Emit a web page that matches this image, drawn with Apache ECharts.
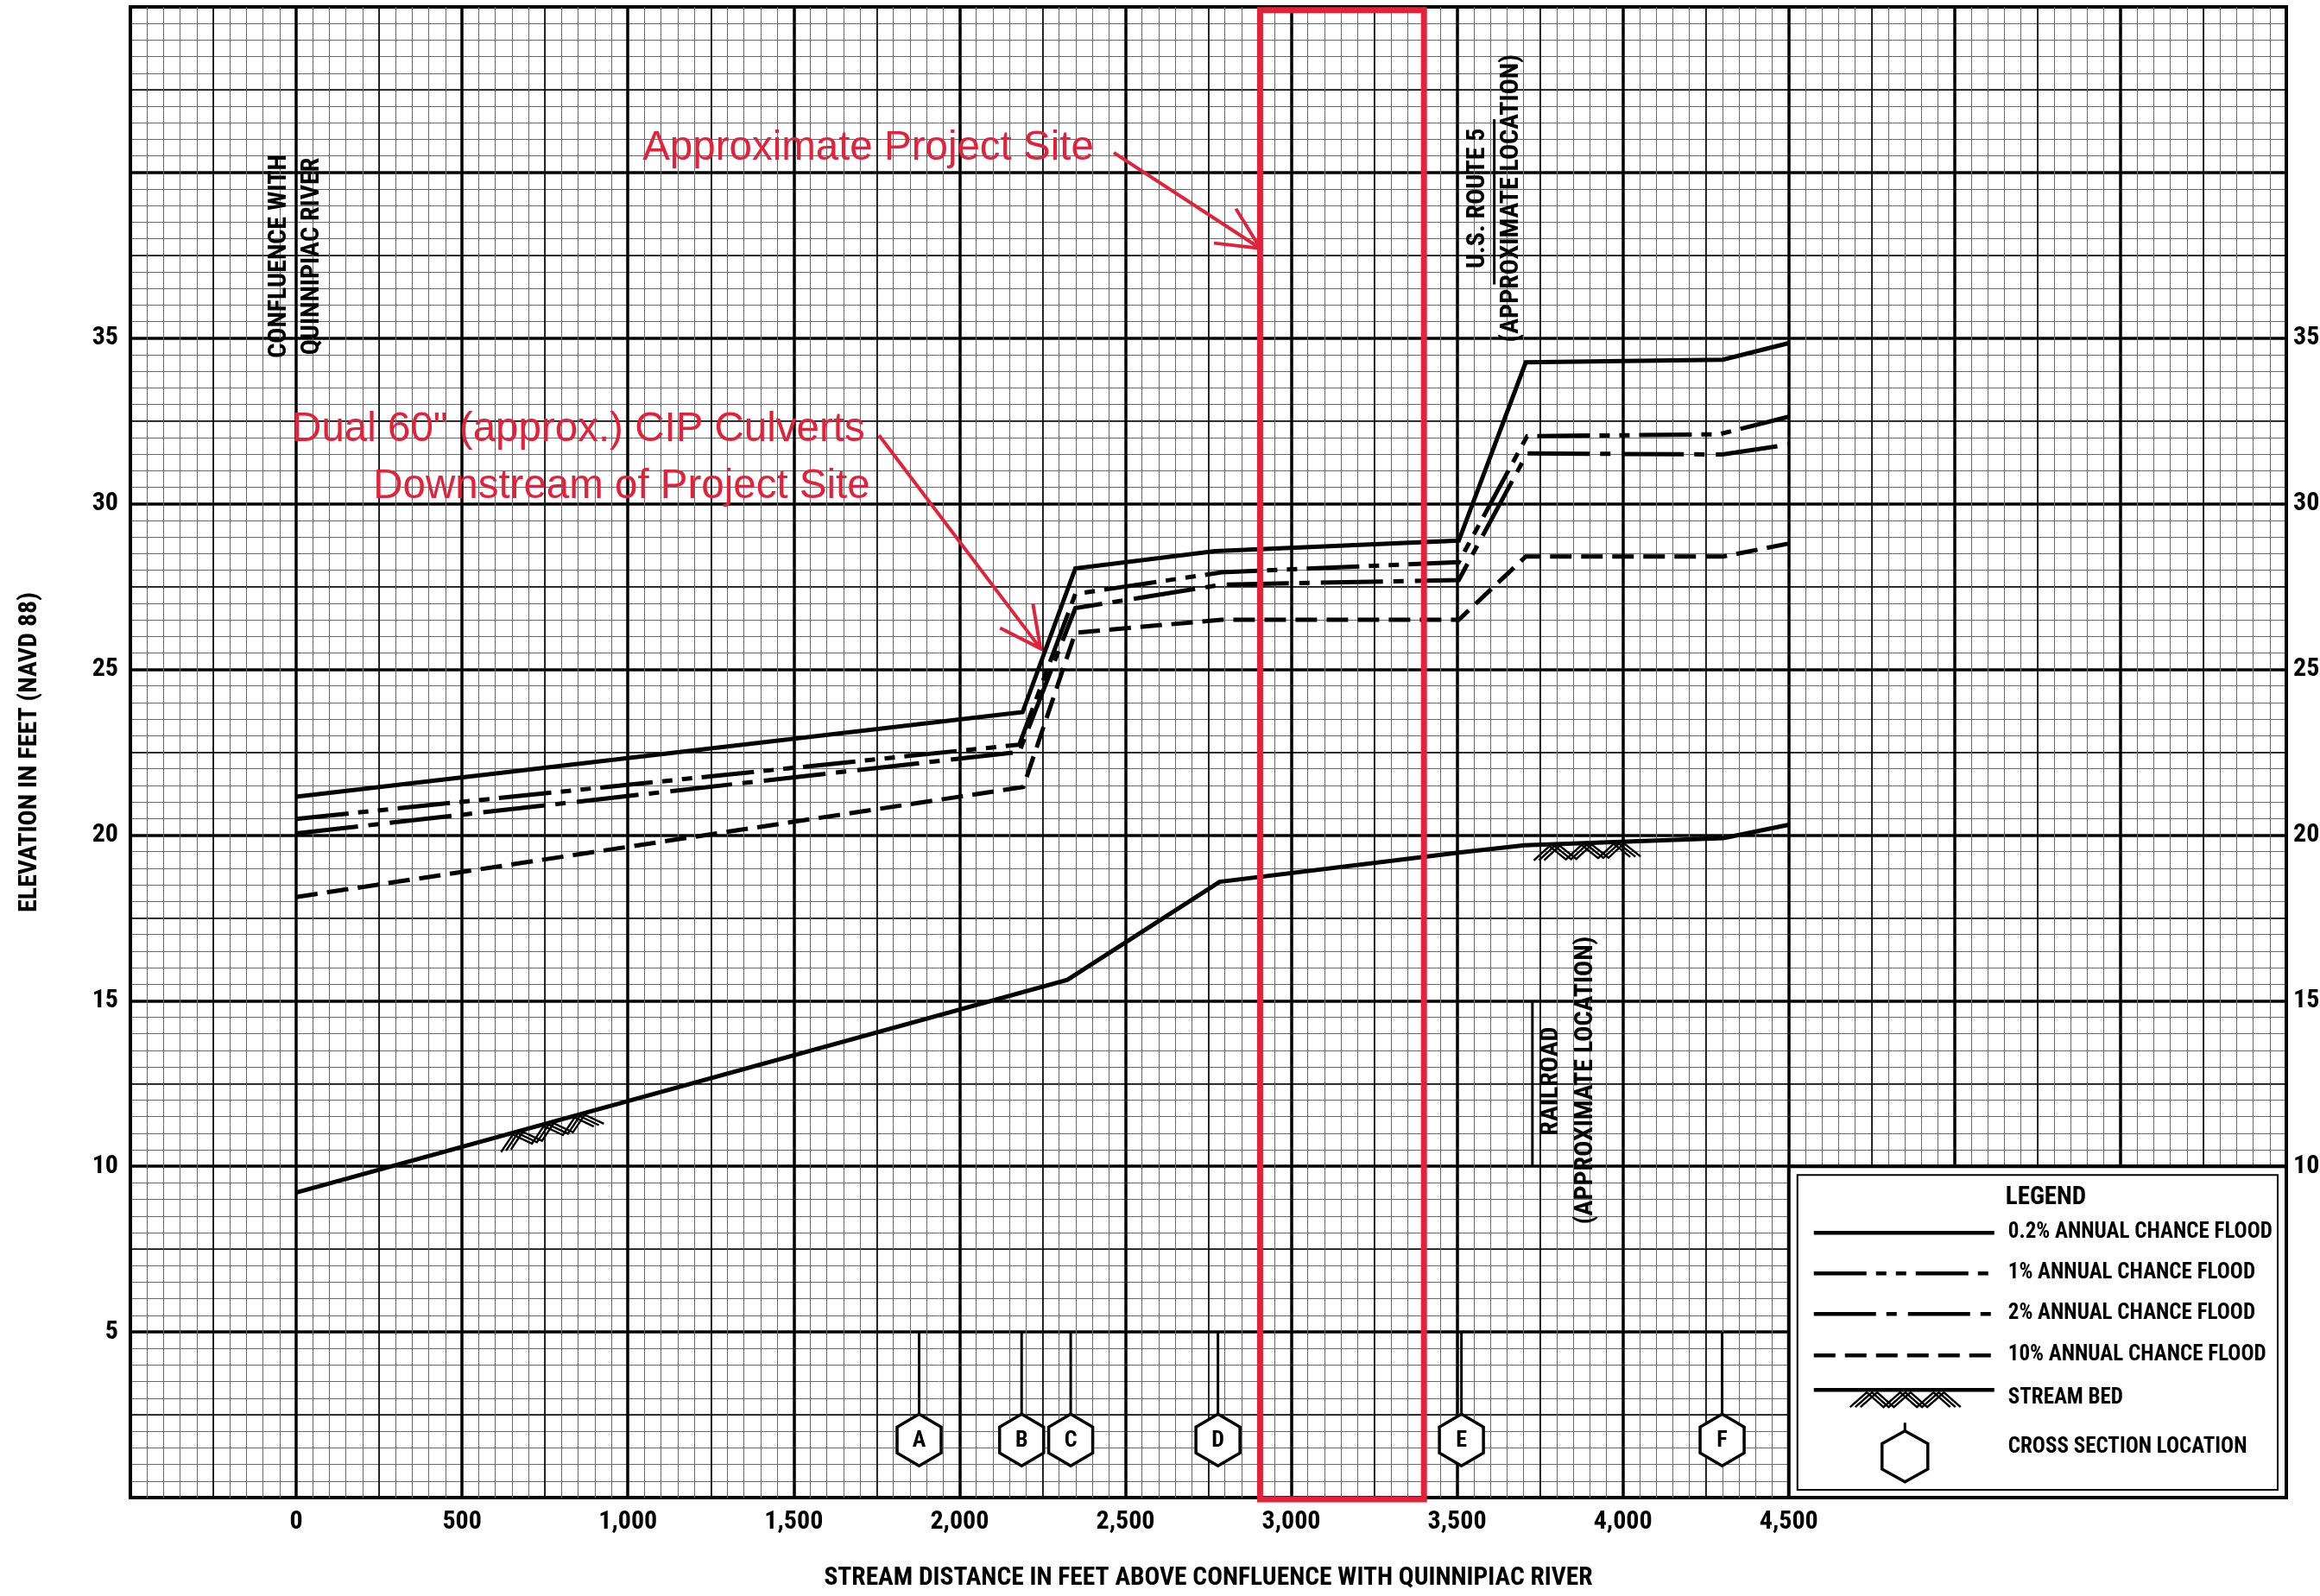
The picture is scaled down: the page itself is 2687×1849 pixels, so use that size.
<!DOCTYPE html>
<html><head><meta charset="utf-8">
<script src="https://cdn.jsdelivr.net/npm/echarts@6/dist/echarts.min.js"></script>
<style>html,body{margin:0;padding:0;background:#fff}#c{width:2687px;height:1849px}</style>
</head><body><div id="c"></div>
<script>
// ---------------- DATA ----------------
const xLabeledTicks = [0, 500, 1000, 1500, 2000, 2500, 3000, 3500, 4000, 4500];
const yLeftLabeledTicks = [5, 10, 15, 20, 25, 30, 35];
const yRightLabeledTicks = [10, 15, 20, 25, 30, 35];

const flood02Dist = [0, 2190, 2349, 2770, 3505, 3707, 4301, 4500];
const flood02Elev = [21.16, 23.71, 28.05, 28.57, 28.89, 34.27, 34.35, 34.85];
const flood1Dist  = [0, 2180, 2349, 2790, 3505, 3711, 4290, 4500];
const flood1Elev  = [20.49, 22.73, 27.28, 27.93, 28.24, 32.04, 32.10, 32.63];
const flood2Dist  = [0, 2180, 2349, 2790, 3505, 3711, 4300, 4500];
const flood2Elev  = [20.05, 22.51, 26.85, 27.56, 27.70, 31.52, 31.49, 31.79];
const flood10Dist = [0, 2192, 2349, 2790, 3505, 3707, 4303, 4500];
const flood10Elev = [18.13, 21.45, 26.11, 26.50, 26.50, 28.41, 28.41, 28.80];
const bedDist     = [0, 2325, 2784, 3505, 3703, 4303, 4500];
const bedElev     = [9.21, 15.63, 18.59, 19.47, 19.69, 19.91, 20.31];

const xsLabels = ['A', 'B', 'C', 'D', 'E', 'F'];
const xsDist   = [1878, 2187, 2335, 2779, 3513, 4299];

const bedHatchStart = [620, 3745];
const bedHatchEnd   = [900, 4036];

const projectSiteDist = [2906, 3400];

const legendNames = ['0.2% ANNUAL CHANCE FLOOD', '1% ANNUAL CHANCE FLOOD', '2% ANNUAL CHANCE FLOOD', '10% ANNUAL CHANCE FLOOD', 'STREAM BED', 'CROSS SECTION LOCATION'];

// ---------------- STYLE ----------------
const NARROW = "'Roboto Condensed','Open Sans Condensed','DejaVu Sans Condensed',sans-serif";
const SANS = "'Liberation Sans',Arial,sans-serif";
const RED = '#E4213B';
const DASH1 = [61, 11, 12, 11, 12, 11];
const DASH2 = [72, 12, 12, 13];
const DASH10 = [25, 11];
const XS_CENTER_ELEV = 1.74;

function pairs(xs, ys) { return xs.map((x, i) => [x, ys[i]]); }
function fmt(v) { return v.toLocaleString('en-US'); }
function bedAt(x) {
  for (let i = 0; i < bedDist.length - 1; i++) {
    if (x >= bedDist[i] && x <= bedDist[i + 1]) {
      const t = (x - bedDist[i]) / (bedDist[i + 1] - bedDist[i]);
      return bedElev[i] + t * (bedElev[i + 1] - bedElev[i]);
    }
  }
  return bedElev[bedElev.length - 1];
}
function zigzag(p1, p2, apexCount, top, depth, shift, width) {
  const dx = p2[0] - p1[0], dy = p2[1] - p1[1], L = Math.hypot(dx, dy);
  const ux = dx / L, uy = dy / L, nx = -uy, ny = ux;
  const segs = apexCount * 2, step = L / segs;
  const out = [];
  for (const s of [-shift, 0, shift]) {
    const pts = [];
    for (let k = 0; k <= segs; k++) {
      const off = (k % 2 === 0) ? depth : top;
      const t = k * step + s;
      pts.push([p1[0] + ux * t + nx * off, p1[1] + uy * t + ny * off]);
    }
    out.push({ type: 'polyline', shape: { points: pts }, style: { stroke: '#000', lineWidth: width, fill: null, lineJoin: 'miter' } });
  }
  return out;
}
function hexPoints(cx, cy, hw, hh) {
  return [[cx, cy - hh], [cx + hw, cy - hh / 2], [cx + hw, cy + hh / 2], [cx, cy + hh], [cx - hw, cy + hh / 2], [cx - hw, cy - hh / 2]];
}

const lineSeries = (name, xs, ys, dash) => ({
  type: 'line', name, data: pairs(xs, ys), symbol: 'none', silent: true, z: 3,
  lineStyle: { color: '#000', width: 5, type: dash, join: 'miter', cap: 'butt' }
});

const labelStyle = { fontFamily: NARROW, fontWeight: 'bold', fontSize: 30, color: '#000' };
const hiddenParts = { axisLine: { show: false }, axisTick: { show: false }, axisLabel: { show: false } };
const MINOR = { color: '#6a6a6a', width: 1 };

const chart = echarts.init(document.getElementById('c'), null, { renderer: 'canvas' });
chart.setOption({
  animation: false,
  backgroundColor: '#fff',
  grid: { left: 151, right: 39, top: 8, bottom: 114, show: true, borderColor: '#000', borderWidth: 4, backgroundColor: '#fff', containLabel: false, outerBoundsMode: 'none' },
  xAxis: [
    {
      type: 'value', min: -500, max: 6000, interval: 500, position: 'bottom',
      axisLine: { show: false }, axisTick: { show: false },
      axisLabel: Object.assign({ margin: 13, formatter: v => xLabeledTicks.includes(v) ? fmt(v) : '' }, labelStyle),
      splitLine: { show: true, lineStyle: { color: '#000', width: 3.5 } },
      minorTick: { show: false, splitNumber: 10 },
      minorSplitLine: { show: true, lineStyle: MINOR },
      name: 'STREAM DISTANCE IN FEET ABOVE CONFLUENCE WITH QUINNIPIAC RIVER',
      nameLocation: 'middle', nameGap: 79,
      nameTextStyle: { fontFamily: NARROW, fontWeight: 'bold', fontSize: 29.5, color: '#000' }
    },
    Object.assign({ type: 'value', min: -500, max: 6000, interval: 250, splitLine: { show: true, lineStyle: { color: '#000', width: 1.6 } } }, hiddenParts)
  ],
  yAxis: [
    {
      type: 'value', min: 0, max: 45, interval: 5, position: 'left',
      axisLine: { show: false }, axisTick: { show: false },
      axisLabel: Object.assign({ margin: 14, formatter: v => yLeftLabeledTicks.includes(v) ? String(v) : '' }, labelStyle),
      splitLine: { show: true, lineStyle: { color: '#000', width: 3.5 } },
      minorTick: { show: false, splitNumber: 10 },
      minorSplitLine: { show: true, lineStyle: MINOR },
      name: 'ELEVATION IN FEET (NAVD 88)', nameLocation: 'middle', nameGap: 102, nameRotate: 90,
      nameTextStyle: { fontFamily: NARROW, fontWeight: 'bold', fontSize: 30, color: '#000' }
    },
    {
      type: 'value', min: 0, max: 45, interval: 5, position: 'right',
      axisLine: { show: false }, axisTick: { show: false }, splitLine: { show: false },
      axisLabel: Object.assign({ margin: 8, formatter: v => yRightLabeledTicks.includes(v) ? String(v) : '' }, labelStyle)
    },
    Object.assign({ type: 'value', min: 0, max: 45, interval: 2.5, splitLine: { show: true, lineStyle: { color: '#000', width: 1.6 } } }, hiddenParts)
  ],
  series: [
    lineSeries(legendNames[4], bedDist, bedElev, 'solid'),
    lineSeries(legendNames[3], flood10Dist, flood10Elev, DASH10),
    lineSeries(legendNames[2], flood2Dist, flood2Elev, DASH2),
    lineSeries(legendNames[1], flood1Dist, flood1Elev, DASH1),
    lineSeries(legendNames[0], flood02Dist, flood02Elev, 'solid'),
    {
      type: 'custom', name: 'bed hatch', silent: true, z: 4,
      data: bedHatchStart.map((s, i) => [s, bedHatchEnd[i]]),
      renderItem: (params, api) => {
        const xa = api.value(0), xb = api.value(1);
        const p1 = api.coord([xa, bedAt(xa)]), p2 = api.coord([xb, bedAt(xb)]);
        return { type: 'group', children: zigzag(p1, p2, 3, 2, 18, 6, 2.4) };
      }
    },
    {
      type: 'custom', name: legendNames[5], silent: true, z: 5,
      data: xsDist.map(d => [d]),
      renderItem: (params, api) => {
        const x = api.value(0);
        const top = api.coord([x, 5]);
        const c = api.coord([x, XS_CENTER_ELEV]);
        const hh = 30, hw = 25.5;
        return {
          type: 'group', children: [
            { type: 'line', shape: { x1: top[0], y1: top[1], x2: c[0], y2: c[1] - hh }, style: { stroke: '#000', lineWidth: 3 } },
            { type: 'polygon', shape: { points: hexPoints(c[0], c[1], hw, hh) }, style: { fill: '#fff', stroke: '#000', lineWidth: 3.5 } },
            { type: 'text', x: c[0], y: c[1] + 1, style: { text: xsLabels[params.dataIndex], font: "bold 26px " + NARROW, fill: '#000', textAlign: 'center', textVerticalAlign: 'middle', align: 'center', verticalAlign: 'middle' } }
          ]
        };
      }
    }
  ]
});

// ---------------- ANNOTATIONS & LEGEND ----------------
const P = (x, y) => chart.convertToPixel({ xAxisIndex: 0, yAxisIndex: 0 }, [x, y]);
const G = [];
function text(pt, str, font, opts) {
  opts = opts || {};
  G.push({
    type: 'text', x: pt[0], y: pt[1], rotation: opts.rot || 0, z: 60,
    style: { text: str, font: font, fill: opts.color || '#000', textAlign: opts.align || 'center', textVerticalAlign: opts.va || 'middle', align: opts.align || 'center', verticalAlign: opts.va || 'middle' }
  });
}
function seg(a, b, color, w, dash) {
  G.push({ type: 'line', z: 60, shape: { x1: a[0], y1: a[1], x2: b[0], y2: b[1] }, style: { stroke: color, lineWidth: w, lineDash: dash || null, lineCap: 'butt' } });
}
function arrow(from, tip, w1, w2) {
  seg(from, tip, RED, 4);
  G.push({ type: 'polyline', z: 60, shape: { points: [w1, tip, w2] }, style: { stroke: RED, lineWidth: 4, fill: null, lineJoin: 'miter' } });
}
const VFONT = "bold 30px " + NARROW;
const ROT = Math.PI / 2;
// vertical black notes
text(P(-52, 37.47), 'CONFLUENCE WITH', VFONT, { rot: ROT });
text(P(49, 37.47), 'QUINNIPIAC RIVER', VFONT, { rot: ROT });
text(P(3562, 39.22), 'U.S. ROUTE 5', VFONT, { rot: ROT });
text(P(3664, 39.22), '(APPROXIMATE LOCATION)', VFONT, { rot: ROT });
seg(P(3612, 41.61), P(3612, 36.62), '#000', 3);
text(P(3784, 12.57), 'RAILROAD', VFONT, { rot: ROT });
text(P(3888, 12.6), '(APPROXIMATE LOCATION)', VFONT, { rot: ROT });
seg(P(3727, 15), P(3727, 10), '#000', 3);

// red notes
const RFONT = "47.5px " + SANS;
text(P(1044, 40.74), 'Approximate Project Site', RFONT, { color: RED, align: 'left' });
text(P(-13, 32.23), 'Dual 60" (approx.) CIP Culverts', RFONT, { color: RED, align: 'left' });
text(P(232, 30.52), 'Downstream of Project Site', RFONT, { color: RED, align: 'left' });
arrow(P(2465, 40.60), P(2906.8, 37.71), P(2767, 37.87), P(2833, 38.91));
arrow(P(1757, 32.07), P(2244, 25.63), P(2122, 26.25), P(2221, 26.99));
{
  const a = P(projectSiteDist[0], 44.9), b = P(projectSiteDist[1], -0.05);
  G.push({ type: 'rect', z: 70, shape: { x: a[0], y: a[1], width: b[0] - a[0], height: b[1] - a[1] }, style: { fill: null, stroke: RED, lineWidth: 7 } });
}

// legend box
{
  const o = P(4500, 10), e = P(6000, 0);
  G.push({ type: 'rect', z: 80, shape: { x: o[0], y: o[1], width: e[0] - o[0], height: e[1] - o[1] }, style: { fill: '#fff', stroke: '#000', lineWidth: 4 } });
  G.push({ type: 'rect', z: 81, shape: { x: o[0] + 10, y: o[1] + 10, width: e[0] - o[0] - 20, height: e[1] - o[1] - 19 }, style: { fill: null, stroke: '#000', lineWidth: 2 } });
  const LF = "bold 25px " + NARROW;
  const lx1 = o[0] + 29, lx2 = o[0] + 238, tx = o[0] + 254;
  const lt = (dy, str, f) => G.push({ type: 'text', z: 82, x: tx, y: o[1] + dy, style: { text: str, font: f || LF, fill: '#000', textAlign: 'left', textVerticalAlign: 'middle', align: 'left', verticalAlign: 'middle' } });
  const ll = (dy, dash) => G.push({ type: 'line', z: 82, shape: { x1: lx1, y1: o[1] + dy, x2: lx2, y2: o[1] + dy }, style: { stroke: '#000', lineWidth: 4.5, lineDash: dash, lineCap: 'butt' } });
  G.push({ type: 'text', z: 82, x: o[0] + 251, y: o[1] + 37, style: { text: 'LEGEND', font: "bold 29px " + NARROW, fill: '#000', textAlign: 'left', textVerticalAlign: 'middle', align: 'left', verticalAlign: 'middle' } });
  ll(77, null); lt(77, legendNames[0]);
  ll(124, DASH1); lt(124, legendNames[1]);
  ll(171, DASH2); lt(171, legendNames[2]);
  ll(219, DASH10); lt(219, legendNames[3]);
  ll(259, null); lt(269, legendNames[4]);
  zigzag([o[0] + 77, o[1] + 260], [o[0] + 193, o[1] + 260], 3, 2, 19, 6, 2.4).forEach(c => { c.z = 82; G.push(c); });
  lt(326, legendNames[5]);
  const hc = [o[0] + 134.5, o[1] + 336];
  G.push({ type: 'line', z: 82, shape: { x1: hc[0], y1: o[1] + 297, x2: hc[0], y2: hc[1] - 29.5 }, style: { stroke: '#000', lineWidth: 3 } });
  G.push({ type: 'polygon', z: 82, shape: { points: hexPoints(hc[0], hc[1], 26.5, 29.5) }, style: { fill: '#fff', stroke: '#000', lineWidth: 3.5 } });
}
chart.setOption({ graphic: G });
</script>
</body></html>
